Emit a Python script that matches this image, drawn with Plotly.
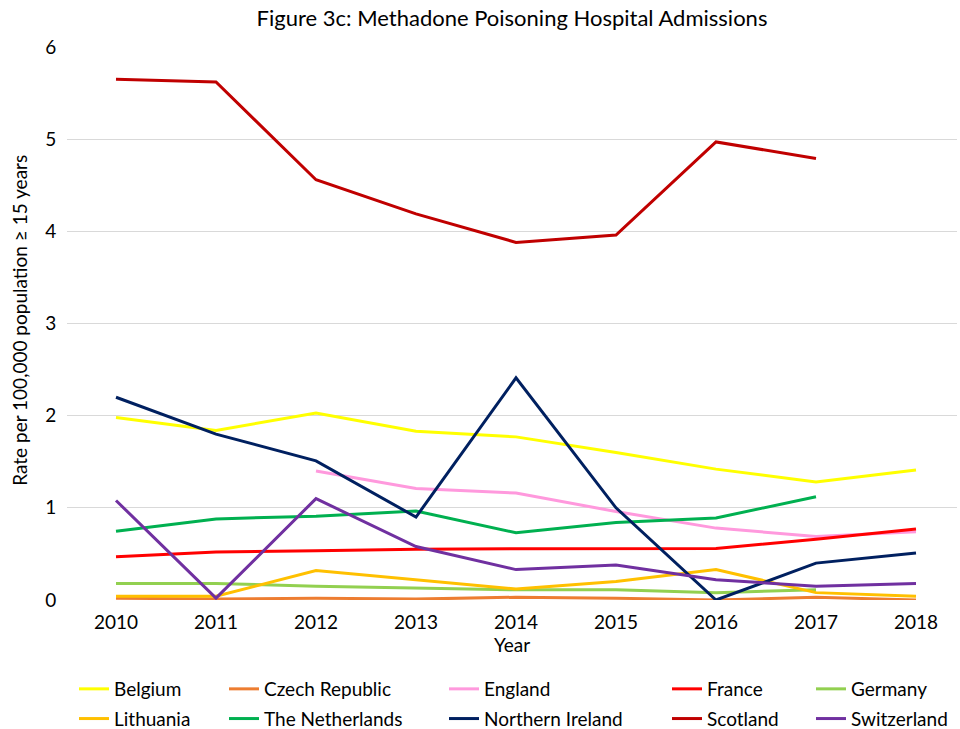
import plotly.graph_objects as go

years = [2010, 2011, 2012, 2013, 2014, 2015, 2016, 2017, 2018]

belgium = [1.98, 1.84, 2.03, 1.83, 1.77, 1.60, 1.42, 1.28, 1.41]
czech_republic = [0.02, 0.01, 0.02, 0.01, 0.03, 0.02, 0.00, 0.03, 0.00]
england = [None, None, 1.40, 1.21, 1.16, 0.96, 0.78, 0.69, 0.74]
france = [0.47, 0.52, 0.535, 0.55, 0.556, 0.56, 0.56, 0.66, 0.77]
germany = [0.18, 0.18, 0.15, 0.13, 0.11, 0.11, 0.08, 0.11, None]
lithuania = [0.04, 0.04, 0.32, 0.22, 0.12, 0.20, 0.33, 0.08, 0.04]
netherlands = [0.745, 0.88, 0.91, 0.965, 0.73, 0.84, 0.89, 1.12, None]
northern_ireland = [2.20, 1.80, 1.51, 0.90, 2.41, 1.00, 0.00, 0.40, 0.51]
scotland = [5.65, 5.62, 4.56, 4.19, 3.88, 3.96, 4.97, 4.79, None]
switzerland = [1.08, 0.02, 1.10, 0.58, 0.33, 0.38, 0.22, 0.15, 0.18]

series = [
    ("Belgium", belgium, "#FFFF00", "legend"),
    ("Czech Republic", czech_republic, "#ED7D31", "legend2"),
    ("England", england, "#FF99DD", "legend3"),
    ("France", france, "#FF0000", "legend4"),
    ("Germany", germany, "#92D050", "legend5"),
    ("Lithuania", lithuania, "#FFC000", "legend"),
    ("The Netherlands", netherlands, "#00B050", "legend2"),
    ("Northern Ireland", northern_ireland, "#002060", "legend3"),
    ("Scotland", scotland, "#C00000", "legend4"),
    ("Switzerland", switzerland, "#7030A0", "legend5"),
]

FONT = "Lato, 'Open Sans', sans-serif"
FS = 19

fig = go.Figure()
for name, vals, col, leg in series:
    fig.add_trace(go.Scatter(x=years, y=vals, name=name, mode="lines",
                             line=dict(color=col, width=3), legend=leg,
                             legendgroup=name))

# legend columns (container px), one legend per column
col_x = [72, 222, 442, 665, 809]
legs = {}
for i, lx in enumerate(col_x):
    key = "legend" if i == 0 else "legend%d" % (i + 1)
    legs[key] = dict(xref="container", yref="container",
                     x=(lx + 2) / 960, y=1 - 670 / 729,
                     xanchor="left", yanchor="top", orientation="v",
                     font=dict(family=FONT, size=FS, color="#000000"),
                     bgcolor="rgba(0,0,0,0)", tracegroupgap=2)

fig.update_layout(
    width=960, height=729,
    margin=dict(l=67, r=3, t=47, b=129, autoexpand=False),
    paper_bgcolor="white", plot_bgcolor="white",
    font=dict(family=FONT, size=FS, color="#000000"),
    title=dict(text="Figure 3c: Methadone Poisoning Hospital Admissions",
               x=0.5, xref="paper", y=1 - 18 / 729, yanchor="middle",
               font=dict(family=FONT, size=22, color="#000000")),
    showlegend=True,
    annotations=[dict(text="Rate per 100,000 population \u2265 15 years",
                      textangle=-90, xref="paper", yref="paper",
                      x=(20 - 67) / 890, y=0.505, showarrow=False,
                      xanchor="center", yanchor="middle",
                      font=dict(family=FONT, size=FS, color="#000000"))],
    **legs,
)
fig.update_xaxes(range=[2009.51, 2018.41], tickvals=years,
                 ticktext=[str(y) for y in years], showgrid=False,
                 zeroline=False, showline=False, ticks="outside",
                 ticklen=5, tickcolor="rgba(0,0,0,0)",
                 title=dict(text="Year", standoff=6,
                            font=dict(family=FONT, size=FS)),
                 tickfont=dict(family=FONT, size=FS))
fig.update_yaxes(range=[0, 6], dtick=1, showgrid=True, gridcolor="#D9D9D9",
                 gridwidth=1, zeroline=False, showline=False, ticks="outside",
                 ticklen=6, tickcolor="rgba(0,0,0,0)",
                 tickfont=dict(family=FONT, size=FS))

fig.write_html("out.html", config={"displayModeBar": False},
               post_script="document.body.style.margin='0px';")
